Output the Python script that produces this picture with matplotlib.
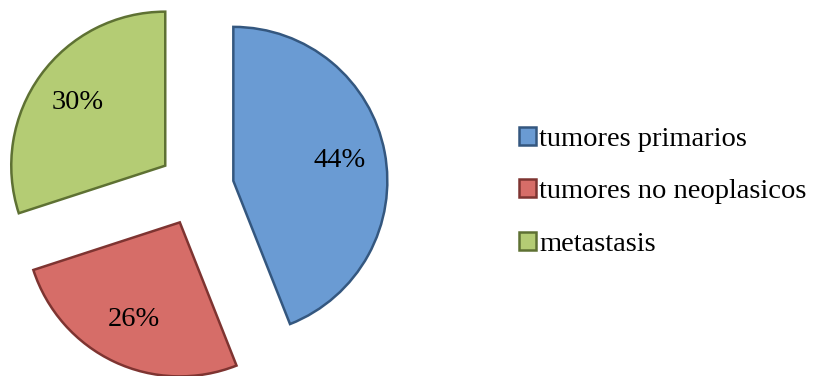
import matplotlib.pyplot as plt

# data
labels = ['tumores primarios', 'tumores no neoplasicos', 'metastasis']
values = [44, 26, 30]
colors = ['#6A9BD3', '#D66D68', '#B4CC74']
edges = ['#34577F', '#7E3431', '#5E7133']

plt.rcParams['font.family'] = ['Liberation Serif', 'DejaVu Serif']

fig = plt.figure(figsize=(8.15, 3.76), dpi=100)
ax = fig.add_axes([0, 0, 1, 1])

# explode is in data units here (pixels), not a fraction
wedges, texts, autotexts = ax.pie(
    values, colors=colors, startangle=90, counterclock=False,
    explode=[38] * 3, radius=154, center=(196, 188),
    autopct='%1.0f%%', pctdistance=0.7,
    wedgeprops=dict(linewidth=1.8),
    textprops=dict(fontsize=20.5, color='black'))
for w, e in zip(wedges, edges):
    w.set_edgecolor(e)

ax.set_xlim(0, 815)
ax.set_ylim(0, 376)
ax.set_aspect('equal')
ax.axis('off')

ax.legend(wedges, labels, loc='center left', bbox_to_anchor=(0.623, 0.49),
          bbox_transform=fig.transFigure, frameon=False, fontsize=20.5,
          handlelength=0.6, handleheight=0.6, handletextpad=0.1,
          labelspacing=0.97, borderaxespad=0)

fig.savefig('out.png', dpi=100)
